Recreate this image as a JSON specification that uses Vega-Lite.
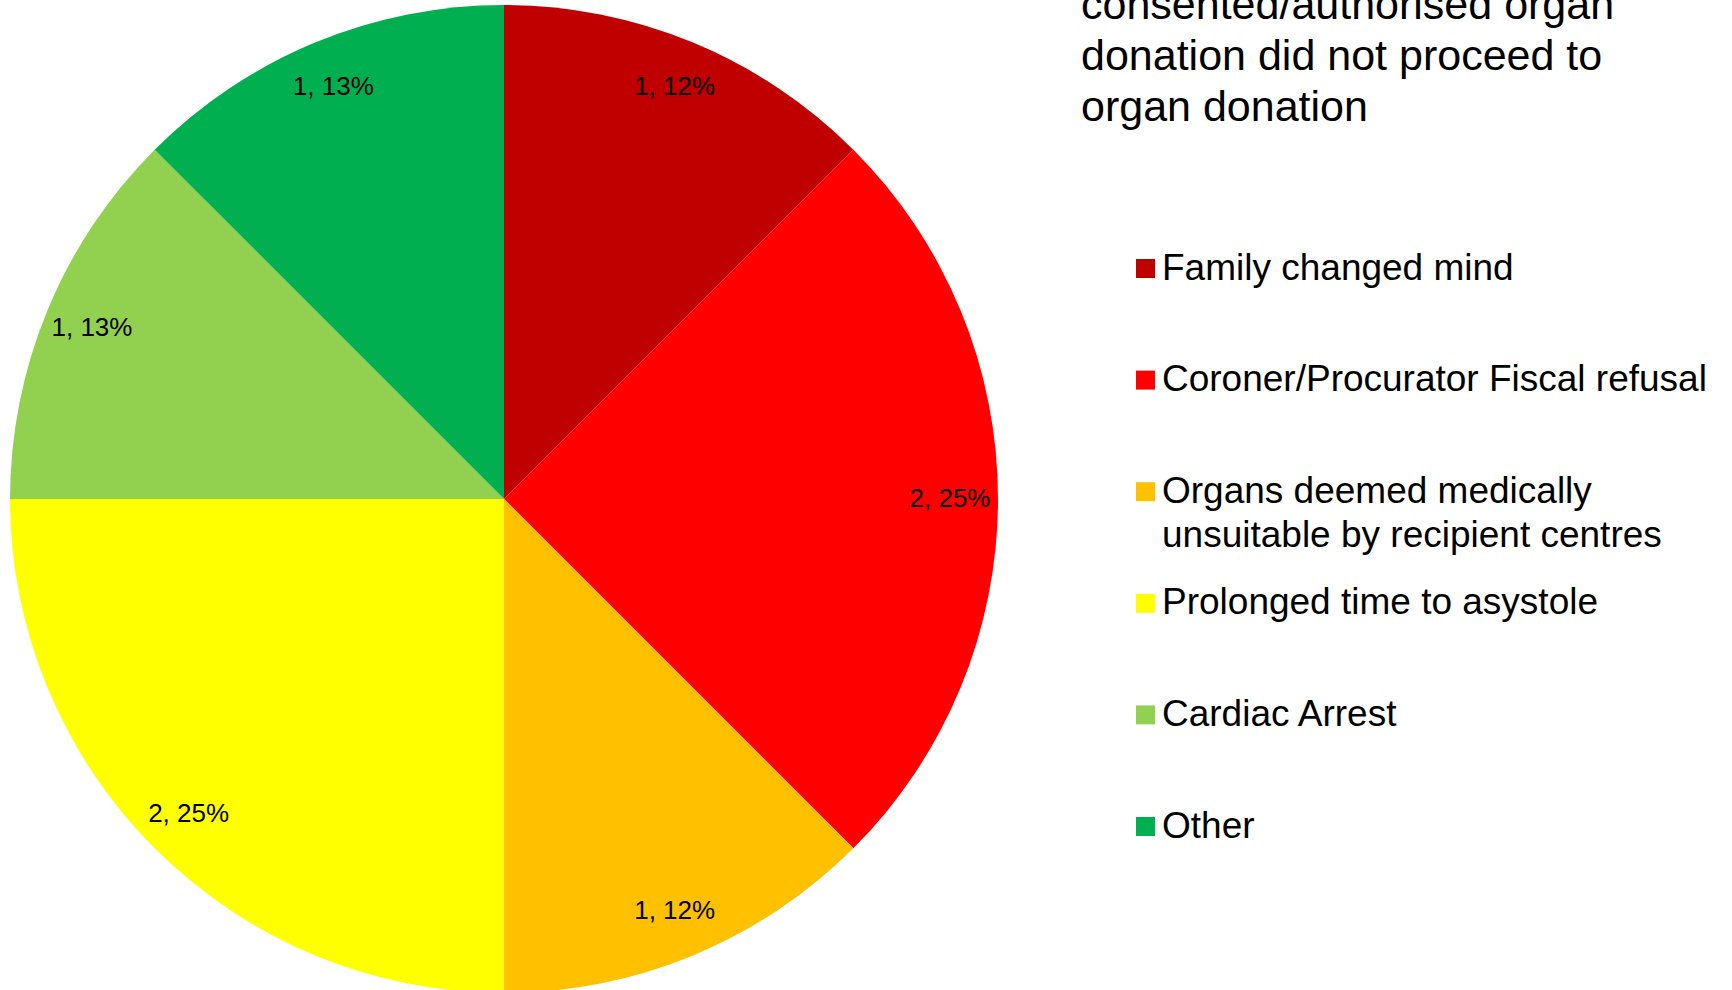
{
  "$schema": "https://vega.github.io/schema/vega-lite/v6.json",
  "autosize": {"type": "none"},
  "padding": {"left": 0, "top": 9, "right": 724, "bottom": 1},
  "width": 1008,
  "height": 980,
  "background": "white",
  "config": {
    "view": {"stroke": null},
    "font": "Liberation Sans",
    "style": {"guide-label": {"lineHeight": 44}}
  },
  "data": {
    "values": [
      {"reason": "Family changed mind", "count": 1, "label": "1, 12%", "rank": 1},
      {"reason": "Coroner/Procurator Fiscal refusal", "count": 2, "label": "2, 25%", "rank": 2},
      {"reason": "Organs deemed medically unsuitable by recipient centres", "count": 1, "label": "1, 12%", "rank": 3},
      {"reason": "Prolonged time to asystole", "count": 2, "label": "2, 25%", "rank": 4},
      {"reason": "Cardiac Arrest", "count": 1, "label": "1, 13%", "rank": 5},
      {"reason": "Other", "count": 1, "label": "1, 13%", "rank": 6}
    ]
  },
  "encoding": {
    "theta": {"field": "count", "type": "quantitative", "stack": true},
    "order": {"field": "rank", "type": "quantitative"}
  },
  "layer": [
    {
      "mark": {"type": "arc", "outerRadius": 494, "stroke": null},
      "encoding": {
        "color": {
          "field": "reason",
          "type": "nominal",
          "sort": ["Family changed mind", "Coroner/Procurator Fiscal refusal", "Organs deemed medically unsuitable by recipient centres", "Prolonged time to asystole", "Cardiac Arrest", "Other"],
          "scale": {
            "domain": ["Family changed mind", "Coroner/Procurator Fiscal refusal", "Organs deemed medically unsuitable by recipient centres", "Prolonged time to asystole", "Cardiac Arrest", "Other"],
            "range": ["#C00000", "#FF0000", "#FFC000", "#FFFF00", "#92D050", "#00B050"]
          },
          "legend": {
            "orient": "none",
            "legendX": 1081,
            "legendY": -75,
            "padding": 0,
            "title": ["Reasons why", "consented/authorised organ", "donation did not proceed to", "organ donation"],
            "titleFont": "Liberation Sans",
            "titleFontSize": 43,
            "titleFontWeight": "normal",
            "titleColor": "black",
            "titleLineHeight": 51,
            "titleLimit": 1000,
            "titlePadding": 120,
            "symbolType": "square",
            "symbolSize": 361,
            "symbolStrokeWidth": 0,
            "symbolOffset": 46,
            "labelOffset": -2,
            "labelFont": "Liberation Sans",
            "labelFontSize": 37,
            "labelColor": "black",
            "labelLimit": 1000,
            "gridAlign": "all",
            "rowPadding": 29.6,
            "labelExpr": "datum.label == 'Organs deemed medically unsuitable by recipient centres' ? ['Organs deemed medically', 'unsuitable by recipient centres'] : datum.label",
            "encode": {
              "labels": {
                "update": {
                  "lineHeight": {"value": 44},
                  "dy": {"signal": "datum.label == 'Organs deemed medically unsuitable by recipient centres' ? 22 : 0"}
                }
              }
            }
          }
        }
      }
    },
    {
      "mark": {"type": "text", "radius": 446, "fontSize": 26, "color": "black", "font": "Liberation Sans"},
      "encoding": {
        "detail": {"field": "reason"},
        "text": {"field": "label"}
      }
    }
  ]
}
